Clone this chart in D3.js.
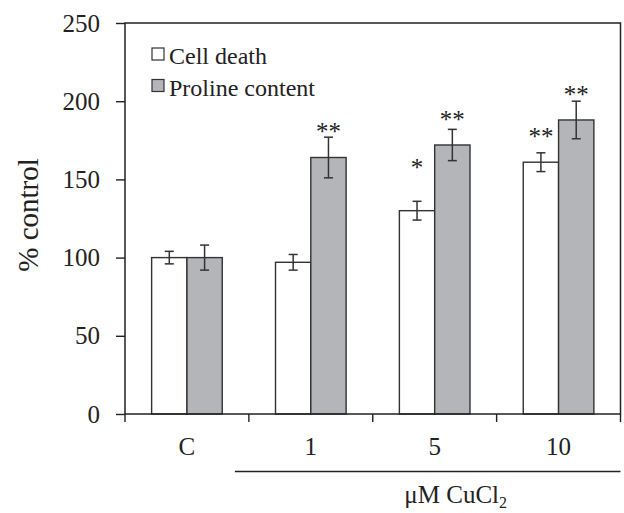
<!DOCTYPE html>
<html>
<head>
<meta charset="utf-8">
<script src="https://cdn.jsdelivr.net/npm/d3@7"></script>
<style>
  body { margin: 0; background: #fff; }
  text { font-family: "Liberation Serif", "Times New Roman", serif; fill: #222; }
</style>
</head>
<body>
<div id="wrapper"></div>
<script>
// data
const categories = ["C", "1", "5", "10"]
const seriesNames = ["Cell death", "Proline content"]
const cellDeath = [100, 97, 130, 161]
const cellDeathErr = [4, 5, 6, 6]
const proline = [100, 164, 172, 188]
const prolineErr = [8, 13, 10, 12]
// significance marks and the level (in % control) where they sit
const cellDeathStars = ["", "", "*", "**"]
const cellDeathStarLevel = [0, 0, 159, 179]
const prolineStars = ["", "**", "**", "**"]
const prolineStarLevel = [0, 182, 190, 206]
const yTicks = [0, 50, 100, 150, 200, 250]

function drawBars() {
    const dimensions = {
        width: 624,
        height: 513,
        margin: { top: 23, right: 3.5, bottom: 99, left: 125 },
    }
    dimensions.boundedWidth = dimensions.width
        - dimensions.margin.left
        - dimensions.margin.right
    dimensions.boundedHeight = dimensions.height
        - dimensions.margin.top
        - dimensions.margin.bottom

    const wrapper = d3.select("#wrapper")
        .append("svg")
        .attr("width", dimensions.width)
        .attr("height", dimensions.height)

    const bounds = wrapper.append("g")
        .attr("transform", `translate(${dimensions.margin.left},${dimensions.margin.top})`)

    const xScale = d3.scaleBand()
        .domain(categories)
        .range([0, dimensions.boundedWidth])
    const barW = xScale.bandwidth() * 0.285
    const yScale = d3.scaleLinear()
        .domain([0, 250])
        .range([dimensions.boundedHeight, 0])

    const series = [
        { name: seriesNames[0], values: cellDeath, err: cellDeathErr, stars: cellDeathStars, level: cellDeathStarLevel, fill: "#ffffff", offset: -1 },
        { name: seriesNames[1], values: proline, err: prolineErr, stars: prolineStars, level: prolineStarLevel, fill: "#b4b5b9", offset: 0 },
    ]

    const xMid = (cat, s) => xScale(cat) + xScale.bandwidth() / 2 + s.offset * barW + barW / 2

    // y axis
    const yAxis = bounds.append("g")
        .call(d3.axisLeft(yScale).tickValues(yTicks).tickSize(9).tickSizeOuter(0).tickPadding(16))
    yAxis.select(".domain").remove()
    yAxis.selectAll("line").attr("stroke", "#222").attr("stroke-width", 1.4)
    yAxis.selectAll("text")
        .style("font-family", "Liberation Serif")
        .style("font-size", "25px")
        .attr("fill", "#222")

    // x ticks at category boundaries
    const boundaries = categories.map(c => xScale(c)).concat([dimensions.boundedWidth])
    bounds.selectAll(".xtick")
        .data(boundaries)
        .join("line")
        .attr("x1", d => d).attr("x2", d => d)
        .attr("y1", dimensions.boundedHeight)
        .attr("y2", dimensions.boundedHeight + 8)
        .attr("stroke", "#222").attr("stroke-width", 1.4)

    bounds.selectAll(".xlabel")
        .data(categories)
        .join("text")
        .attr("x", d => xScale(d) + xScale.bandwidth() / 2)
        .attr("y", dimensions.boundedHeight + 41)
        .attr("text-anchor", "middle")
        .style("font-size", "25px")
        .text(d => d)

    // bars
    series.forEach(s => {
        const g = bounds.append("g")
        g.selectAll("rect")
            .data(categories)
            .join("rect")
            .attr("x", (d, i) => xMid(d, s) - barW / 2)
            .attr("y", (d, i) => yScale(s.values[i]))
            .attr("width", barW)
            .attr("height", (d, i) => yScale(0) - yScale(s.values[i]))
            .attr("fill", s.fill)
            .attr("stroke", "#333")
            .attr("stroke-width", 1.4)

        // error bars
        const eb = g.selectAll(".err")
            .data(categories)
            .join("g")
            .attr("stroke", "#333")
            .attr("stroke-width", 1.5)
        eb.append("line")
            .attr("x1", d => xMid(d, s)).attr("x2", d => xMid(d, s))
            .attr("y1", (d, i) => yScale(s.values[i] + s.err[i]))
            .attr("y2", (d, i) => yScale(s.values[i] - s.err[i]))
        eb.append("line")
            .attr("x1", d => xMid(d, s) - 4.5).attr("x2", d => xMid(d, s) + 4.5)
            .attr("y1", (d, i) => yScale(s.values[i] + s.err[i]))
            .attr("y2", (d, i) => yScale(s.values[i] + s.err[i]))
        eb.append("line")
            .attr("x1", d => xMid(d, s) - 4.5).attr("x2", d => xMid(d, s) + 4.5)
            .attr("y1", (d, i) => yScale(s.values[i] - s.err[i]))
            .attr("y2", (d, i) => yScale(s.values[i] - s.err[i]))

        // significance stars
        g.selectAll(".star")
            .data(categories)
            .join("text")
            .attr("x", d => xMid(d, s))
            .attr("y", (d, i) => yScale(s.level[i]) + 11)
            .attr("text-anchor", "middle")
            .style("font-size", "25px")
            .attr("fill", "#333")
            .text((d, i) => s.stars[i])
    })

    // frame
    bounds.append("rect")
        .attr("x", 0).attr("y", 0)
        .attr("width", dimensions.boundedWidth)
        .attr("height", dimensions.boundedHeight)
        .attr("fill", "none")
        .attr("stroke", "#222")
        .attr("stroke-width", 1.5)

    // legend
    const legend = bounds.selectAll(".legend")
        .data(series)
        .join("g")
        .attr("transform", (d, i) => `translate(27, ${25 + i * 31.5})`)
    legend.append("rect")
        .attr("x", 0).attr("y", 0)
        .attr("width", 12).attr("height", 12)
        .attr("fill", d => d.fill)
        .attr("stroke", "#333")
        .attr("stroke-width", 1.2)
    legend.append("text")
        .attr("x", 17)
        .attr("y", 16)
        .style("font-size", "24px")
        .text(d => d.name)

    // y axis title
    wrapper.append("text")
        .attr("transform", `translate(38, 215) rotate(-90)`)
        .attr("text-anchor", "middle")
        .style("font-size", "29px")
        .text("% control")

    // treatment bracket
    const xStart = dimensions.margin.left + xScale("1") - 14
    const xEnd = dimensions.margin.left + dimensions.boundedWidth
    wrapper.append("line")
        .attr("x1", xStart).attr("x2", xEnd)
        .attr("y1", 471.5).attr("y2", 471.5)
        .attr("stroke", "#222").attr("stroke-width", 1.5)

    const unit = wrapper.append("text")
        .attr("x", (xStart + xEnd) / 2 + 28)
        .attr("y", 503)
        .attr("text-anchor", "middle")
        .style("font-size", "25px")
    unit.append("tspan").text("\u03bcM CuCl")
    unit.append("tspan").attr("dy", 5).style("font-size", "16px").text("2")
}

drawBars()
</script>
</body>
</html>
